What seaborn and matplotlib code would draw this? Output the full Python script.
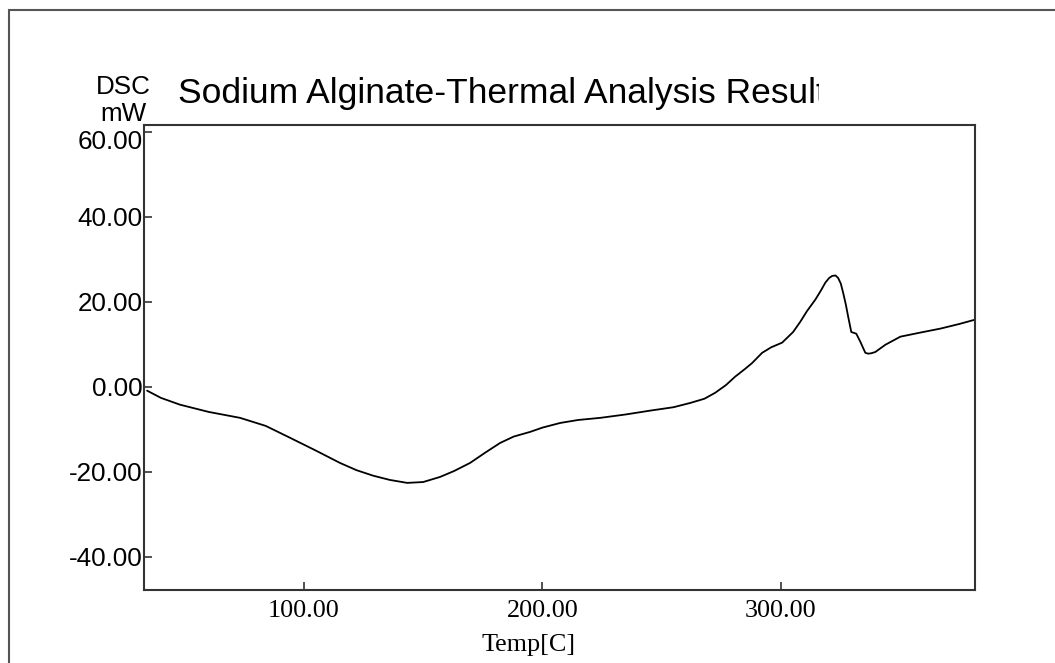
import seaborn as sns
import pandas as pd
import matplotlib.pyplot as plt
import matplotlib.transforms as mtransforms
from matplotlib.patches import Rectangle

# DSC curve
temp = [34.2, 40.0, 48.0, 60.0, 73.2, 84.0, 94.2, 105.0, 115.1, 122.0, 129.0, 136.0,
        143.3, 150.0, 157.1, 163.0, 169.7, 176.0, 182.3, 188.0, 194.9, 200.0, 207.5,
        215.0, 224.3, 235.0, 245.2, 255.0, 262.0, 268.0, 272.5, 277.0, 280.9, 285.0,
        288.0, 292.2, 296.0, 300.6, 305.2, 308.2, 311.0, 314.5, 316.8, 318.7, 320.3,
        321.6, 323.0, 324.1, 325.2, 326.2, 327.3, 328.3, 329.6, 331.7, 333.4, 335.5,
        336.7, 338.0, 339.7, 343.9, 350.2, 358.0, 367.0, 375.0, 381.5]
dsc = [-0.9, -2.6, -4.2, -5.9, -7.3, -9.2, -12.0, -15.0, -17.9, -19.6, -20.9, -21.9,
       -22.6, -22.4, -21.2, -19.8, -17.9, -15.5, -13.2, -11.7, -10.6, -9.6, -8.5,
       -7.8, -7.3, -6.5, -5.6, -4.8, -3.8, -2.8, -1.4, 0.4, 2.4, 4.2, 5.6, 8.0, 9.3,
       10.4, 12.9, 15.3, 17.8, 20.5, 22.6, 24.5, 25.6, 26.1, 26.2, 25.6, 24.3, 22.1,
       19.4, 16.5, 12.9, 12.5, 10.6, 8.0, 7.8, 7.9, 8.2, 9.9, 11.8, 12.7, 13.7, 14.8, 15.8]

yticks = [-40, -20, 0, 20, 40, 60]
xticks = [100, 200, 300]

df = pd.DataFrame({"Temp": temp, "DSC": dsc})

sns.set_style("white")
fig = plt.figure(figsize=(10.55, 6.63), dpi=100)
ax = fig.add_axes([144 / 1055, 73 / 663, 831 / 1055, 465 / 663])

sns.lineplot(data=df, x="Temp", y="DSC", color="black", linewidth=1.3, ax=ax)

ax.set_xlim(32.9, 381.5)
ax.set_ylim(-47.8, 61.6)
ax.set_xticks(xticks)
ax.set_yticks(yticks)
ax.set_xticklabels(["%.2f" % v for v in xticks], family="Liberation Serif", fontsize=18.8, color="black")
ax.set_yticklabels(["%.2f" % v for v in yticks], family="Liberation Sans", fontsize=18.7, color="black")
ax.tick_params(axis="both", direction="in", length=6, width=1.2, color="#333333",
               bottom=True, left=True, top=False, right=False)
ax.tick_params(axis="y", pad=1)
ax.tick_params(axis="x", pad=7)
ax.set_xlabel("")
ax.set_ylabel("")
for s in ax.spines.values():
    s.set_color("#333333")
    s.set_linewidth(1.5)

# top label sits a bit lower than its tick
lab = ax.get_yticklabels()[-1]
lab.set_transform(lab.get_transform() + mtransforms.ScaledTranslation(0, -8 / 100, fig.dpi_scale_trans))

fig.text(529 / 1055, 1 - 645 / 663, "Temp[C]", family="Liberation Serif", fontsize=18.8,
         ha="center", va="center", color="black")
fig.text(123 / 1055, 1 - 94 / 663, "DSC", family="Liberation Sans", fontsize=18.7,
         ha="center", va="baseline", color="black")
fig.text(123 / 1055, 1 - 121 / 663, "mW", family="Liberation Sans", fontsize=18.7,
         ha="center", va="baseline", color="black")

fig.text(178 / 1055, 1 - 103 / 663, "Sodium Alginate-Thermal Analysis Result",
         family="Liberation Sans", fontsize=25.5, ha="left", va="baseline", color="black")
# the title runs off its box in the original: hide the tail
fig.patches.append(Rectangle((819 / 1055, 1 - 118 / 663), 0.2, 55 / 663, transform=fig.transFigure,
                             facecolor="white", edgecolor="none", zorder=5))

# outer frame running off the right and bottom edges
fig.patches.append(Rectangle((9 / 1055, -0.2), 1.2, 1.2 - 10 / 663, transform=fig.transFigure,
                             fill=False, edgecolor="#555555", linewidth=1.5, zorder=6))

fig.savefig("out.png", dpi=100)
